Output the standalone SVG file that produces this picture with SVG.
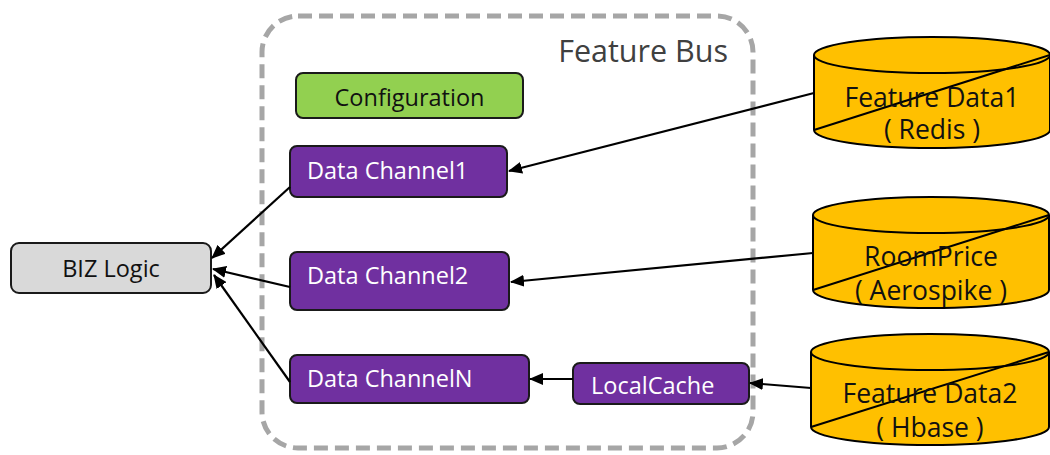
<svg xmlns="http://www.w3.org/2000/svg" width="1050" height="455" viewBox="0 0 1050 455">
  <style>
    text { font-family: "Open Sans", "Liberation Sans", sans-serif; }
    .box { stroke: #1a1a1a; stroke-width: 2; }
    .chan { fill: #7030a0; }
    .chan-t { fill: #ffffff; font-size: 23.5px; }
    .dark-t { fill: #111111; font-size: 23.5px; }
    .cyl { fill: #ffc000; stroke: #000; stroke-width: 2; }
    .cyl-t { fill: #111111; font-size: 26.5px; text-anchor: middle; }
    .edge { fill: none; stroke: #000; stroke-width: 2.2; marker-end: url(#head); }
  </style>
  <defs>
    <marker id="head" viewBox="0 0 14 12" refX="13" refY="6" markerWidth="14" markerHeight="12" markerUnits="userSpaceOnUse" orient="auto">
      <path d="M0,0 L14,6 L0,12 Z" fill="#000"/>
    </marker>
  </defs>
  <rect width="1050" height="455" fill="#ffffff"/>

  <!-- bus container -->
  <g id="feature-bus">
    <rect x="262" y="16" width="491" height="432" rx="36" fill="none" stroke="#a6a6a6" stroke-width="5" stroke-dasharray="14 7"/>
    <text x="728" y="62" text-anchor="end" font-size="30.5" fill="#404040">Feature Bus</text>
  </g>

  <g id="configuration">
    <rect class="box" x="296" y="73" width="227" height="45" rx="7" fill="#92d050"/>
    <text class="dark-t" x="409.5" y="106" text-anchor="middle">Configuration</text>
  </g>

  <g id="data-channel-1">
    <rect class="box chan" x="290" y="146" width="217" height="51" rx="7"/>
    <text class="chan-t" x="307" y="179">Data Channel1</text>
  </g>

  <g id="data-channel-2">
    <rect class="box chan" x="290" y="252" width="219" height="58" rx="7"/>
    <text class="chan-t" x="307" y="284">Data Channel2</text>
  </g>

  <g id="data-channel-n">
    <rect class="box chan" x="290" y="355" width="239" height="48" rx="7"/>
    <text class="chan-t" x="307" y="387">Data ChannelN</text>
  </g>

  <g id="local-cache">
    <rect class="box chan" x="573" y="363" width="176" height="41" rx="7"/>
    <text class="chan-t" x="591" y="394">LocalCache</text>
  </g>

  <g id="biz-logic">
    <rect class="box" x="11" y="243" width="200" height="50" rx="8" fill="#d9d9d9"/>
    <text class="dark-t" x="111" y="277" text-anchor="middle">BIZ Logic</text>
  </g>

  <!-- data stores -->
  <g id="feature-data-1">
    <path class="cyl" d="M814,55 L814,130 A118,18 0 0 0 1050,130 L1050,55"/>
    <ellipse class="cyl" cx="932" cy="55" rx="118" ry="18"/>
    <line x1="814" y1="130" x2="1050" y2="55" stroke="#000" stroke-width="2"/>
    <text class="cyl-t" x="932" y="107">Feature Data1</text>
    <text class="cyl-t" x="932" y="139">( Redis )</text>
  </g>

  <g id="room-price">
    <path class="cyl" d="M813,215 L813,290 A118,18 0 0 0 1049,290 L1049,215"/>
    <ellipse class="cyl" cx="931" cy="215" rx="118" ry="18"/>
    <line x1="813" y1="290" x2="1049" y2="215" stroke="#000" stroke-width="2"/>
    <text class="cyl-t" x="931" y="266">RoomPrice</text>
    <text class="cyl-t" x="931" y="300">( Aerospike )</text>
  </g>

  <g id="feature-data-2">
    <path class="cyl" d="M811,352 L811,427 A119,18 0 0 0 1049,427 L1049,352"/>
    <ellipse class="cyl" cx="930" cy="352" rx="119" ry="18"/>
    <line x1="811" y1="427" x2="1049" y2="352" stroke="#000" stroke-width="2"/>
    <text class="cyl-t" x="930" y="403">Feature Data2</text>
    <text class="cyl-t" x="930" y="437">( Hbase )</text>
  </g>

  <g id="connectors">
    <line class="edge" x1="814" y1="93" x2="509" y2="171"/>
    <line class="edge" x1="813" y1="253" x2="511" y2="282"/>
    <line class="edge" x1="811" y1="388" x2="750" y2="383"/>
    <line class="edge" x1="573" y1="379" x2="530" y2="379"/>
    <line class="edge" x1="290" y1="187" x2="212" y2="258"/>
    <line class="edge" x1="290" y1="287" x2="213" y2="269"/>
    <line class="edge" x1="290" y1="382" x2="214" y2="275"/>
  </g>
</svg>
